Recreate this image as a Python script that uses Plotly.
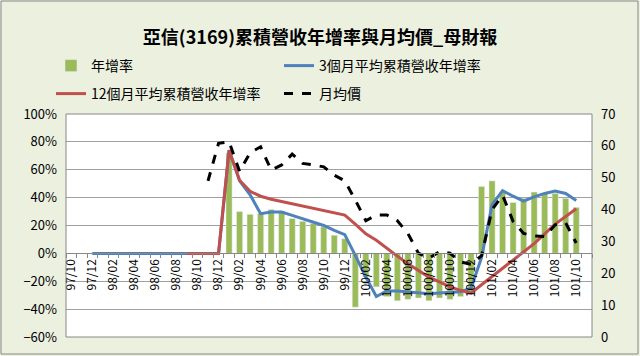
import plotly.graph_objects as go

months = ["97/10","97/11","97/12",
          "98/01","98/02","98/03","98/04","98/05","98/06","98/07","98/08","98/09","98/10","98/11","98/12",
          "99/01","99/02","99/03","99/04","99/05","99/06","99/07","99/08","99/09","99/10","99/11","99/12",
          "100/01","100/02","100/03","100/04","100/05","100/06","100/07","100/08","100/09","100/10","100/11","100/12",
          "101/01","101/02","101/03","101/04","101/05","101/06","101/07","101/08","101/09","101/10","101/11"]

# tick labels shown (every second month)
tick_text = [m if i % 2 == 0 else "" for i, m in enumerate(months)]

N = None
# 年增率 (%)
yoy = [N]*15 + [72, 30, 28, 28.5, 31.5, 30, 25, 23, 21.5, 19, 13, 10.5,
                -38.6, -17, -24, -31, -34, -33, -32, -34, -32, -33, -31, -29,
                48, 52, 44, 36.5, 39.5, 44, 43, 43, 39.5, 33, N]
# 3個月平均累積營收年增率 (%)
avg3 = [N, N] + [0]*13 + [74, 52, 42, 28.5, 29.7, 29.7, 27.3, 25, 22.5, 20, 16.5, 13.5,
                          -1.4, -17, -31, -27, -27, -27.5, -28, -29, -28.5, -28, -27.5, -25,
                          -3, 35, 45, 41, 37.5, 40.5, 43, 44.8, 43, 38, N]
# 12個月平均累積營收年增率 (%)
avg12 = [N]*11 + [0]*4 + [74, 52.5, 44.5, 41, 38.8, 37.2, 35.7, 33.8, 32.6, 31, 29.3, 27.5,
                          21, 14, 9.4, 4, -2, -7.5, -12.5, -17, -20.5, -24, -26.5, -28.5,
                          -22.5, -16.5, -10.5, -4.5, 1, 7, 14, 21, 26.5, 32, N]
# 月均價
price = [N]*13 + [49, 60.8, 61.3, 52, 57.8, 59.7, 52.4, 54, 57.4, 54.5, 54, 53.4, 50.8, 49,
                  43, 36.5, 38.3, 38.3, 36.5, 32.5, 26.3, 24.7, 26.8, 26.3, 23.6, 22.8,
                  25.5, 40, 44.5, 36.3, 32.5, 31.7, 31.5, 35.2, 35.8, 29.5, N]

def frac(v):
    return [None if x is None else x / 100 for x in v]

FONT = "'Noto Sans CJK TC', sans-serif"
fig = go.Figure()
fig.add_trace(go.Bar(x=months, y=frac(yoy), name="年增率", marker_color="#9BBB59",
                     legend="legend"))
fig.add_trace(go.Scatter(x=months, y=frac(avg3), name="3個月平均累積營收年增率", mode="lines",
                         line=dict(color="#4F81BD", width=3), legend="legend"))
fig.add_trace(go.Scatter(x=months, y=frac(avg12), name="12個月平均累積營收年增率", mode="lines",
                         line=dict(color="#C0504D", width=3), legend="legend2"))
fig.add_trace(go.Scatter(x=months, y=price, name="月均價", mode="lines", yaxis="y2",
                         line=dict(color="#000000", width=3, dash="dash"), legend="legend2"))

L, R, T, B = 66, 48, 114, 19
W, H = 640 - L - R, 356 - T - B

def px(xp):
    return (xp - L) / W

def py(yp):
    return (356 - B - yp) / H

legend_common = dict(orientation="h", font=dict(family=FONT, size=14, color="#000"),
                     bgcolor="rgba(0,0,0,0)", entrywidth=183, entrywidthmode="pixels",
                     xanchor="left", yanchor="middle", itemwidth=30)

fig.update_layout(
    width=640, height=356,
    margin=dict(l=L, r=R, t=T, b=B, autoexpand=False),
    paper_bgcolor="#EBF0DF", plot_bgcolor="#FFFFFF",
    font=dict(family=FONT, size=12, color="#000"),
    title=dict(text="<b>亞信(3169)累積營收年增率與月均價_母財報</b>", x=0.5, xanchor="center",
               y=1 - 38 / 356, yanchor="middle", font=dict(family=FONT, size=18, color="#000")),
    bargap=0.42,
    showlegend=True,
    legend=dict(x=px(51), y=py(66), **legend_common),
    legend2=dict(x=px(51), y=py(94), **legend_common),
    xaxis=dict(type="category", range=[-0.5, len(months) - 0.5],
               tickmode="array", tickvals=months, ticktext=tick_text,
               tickangle=-90, ticks="outside", ticklen=4, tickcolor="#888",
               tickson="boundaries",
               showgrid=False, showline=True, linecolor="#888", linewidth=1,
               anchor="free", position=0.6 / 1.6,
               tickfont=dict(family=FONT, size=12, color="#000")),
    yaxis=dict(range=[-0.6, 1.0], dtick=0.2, tick0=0, tickformat=".0%",
               showgrid=True, gridcolor="#A0A0A0", gridwidth=1, zeroline=False,
               ticks="", ticklabelstandoff=8,
               tickfont=dict(family=FONT, size=13, color="#000")),
    yaxis2=dict(range=[0, 70], dtick=10, overlaying="y", side="right", showgrid=False,
                zeroline=False, ticks="", ticklabelstandoff=8,
                tickfont=dict(family=FONT, size=13, color="#000")),
    shapes=[
        dict(type="rect", xref="paper", yref="paper", x0=0, x1=1, y0=0, y1=1,
             line=dict(color="#888", width=1), layer="above"),
        dict(type="rect", xref="paper", yref="paper", x0=px(1), x1=px(638), y0=py(354), y1=py(1),
             line=dict(color="#888", width=1)),
    ],
)

fig.write_html("out.html", config={"displayModeBar": False},
               post_script="document.body.style.margin='0';document.body.style.overflow='hidden';")
